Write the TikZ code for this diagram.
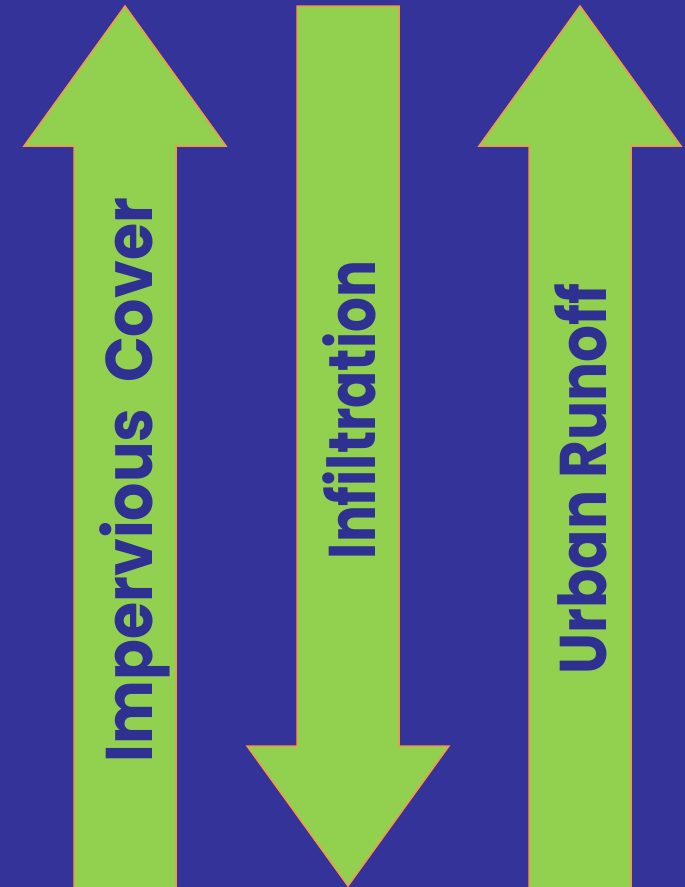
\documentclass[tikz,border=0pt]{standalone}
\usepackage{fontspec}
\usepackage{graphicx}
\setmainfont{Poppins}[BoldFont={* Bold}]
\definecolor{bg}{HTML}{343399}
\definecolor{arrowgreen}{HTML}{92D050}
\definecolor{edgeorange}{HTML}{F79646}
\definecolor{txtblue}{HTML}{2E3192}
\begin{document}
\begin{tikzpicture}[x=1pt,y=-1pt,
  bigarrow/.style={fill=arrowgreen,draw=edgeorange,line width=1.5pt,line join=miter},
  label/.style={rotate=90,anchor=base,text=txtblue,font=\fontsize{66}{70}\selectfont\bfseries,inner sep=0pt}]
\fill[bg] (0,0) rectangle (685,887);
\useasboundingbox (0,0) rectangle (685,887);
% arrow 1 (up)
\draw[bigarrow] (125,6) -- (226,146) -- (176,146) -- (176,890) -- (74,890) -- (74,146) -- (24,146) -- cycle;
% arrow 2 (down)
\draw[bigarrow] (348,886) -- (449,746) -- (399,746) -- (399,6) -- (297,6) -- (297,746) -- (247,746) -- cycle;
% arrow 3 (up)
\draw[bigarrow] (580,6) -- (681,146) -- (631,146) -- (631,890) -- (529,890) -- (529,146) -- (479,146) -- cycle;
\node[label] (t1) at (152,480) {\scalebox{0.913}[1]{Impervious\ \ Cover}};
\node[label] (t2) at (375,410) {\scalebox{0.83}[1]{Infiltration}};
\node[label] (t3) at (606,479) {\scalebox{0.88}[1]{Urban Runoff}};
\end{tikzpicture}
\end{document}
